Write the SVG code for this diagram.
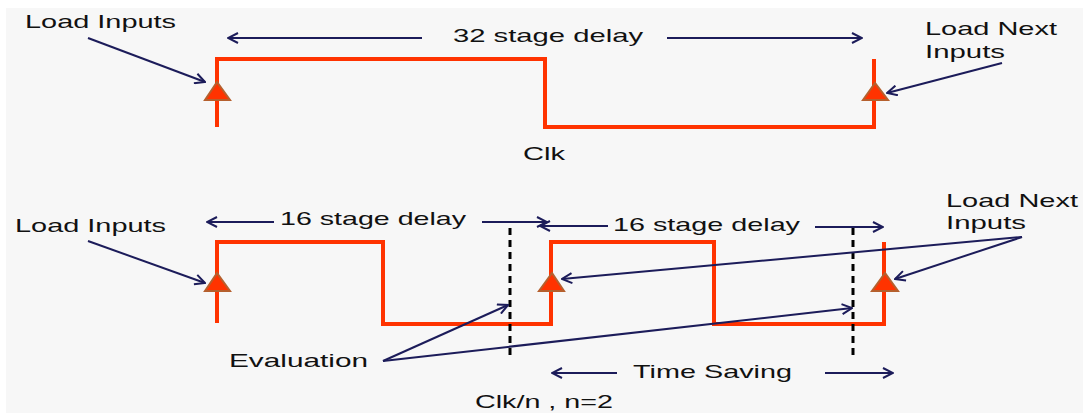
<svg xmlns="http://www.w3.org/2000/svg" width="1089" height="415" viewBox="0 0 1089 415">
<style>
.t{font-family:"Liberation Sans",Arial,sans-serif;font-size:19px;fill:#111;}
.w{fill:none;stroke:#ff3300;stroke-width:4;stroke-linejoin:miter;}
.tri{fill:#ff3300;stroke:#b5602e;stroke-width:2;stroke-linejoin:miter;}
.a{fill:none;stroke:#1c1c5a;stroke-width:2;marker-end:url(#ah);}
.d{fill:none;stroke:#000;stroke-width:3;stroke-dasharray:7,5;}
</style>
<defs>
<marker id="ah" viewBox="0 0 12 12" refX="11" refY="6" markerWidth="12" markerHeight="12" markerUnits="userSpaceOnUse" orient="auto">
<path d="M1,1 L11,6 L1,11" fill="none" stroke="#1c1c5a" stroke-width="2"/>
</marker>
</defs>
<rect x="0" y="0" width="1089" height="415" fill="#ffffff"/>
<rect x="6" y="8" width="1077" height="405" fill="#f7f7f7"/>
<g id="clk-top">
<path class="w" d="M217,127 V59 H545 V127 H874 V59"/>
<polygon class="tri" points="217,82 205,100 230,100"/>
<polygon class="tri" points="875,83 863,100 888,100"/>
<text class="t" x="523" y="160" textLength="42" lengthAdjust="spacingAndGlyphs">Clk</text>
</g>
<g id="clk-bottom">
<path class="w" d="M217,323 V242 H383 V324 H551 V242 H714 V324 H884 V242"/>
<polygon class="tri" points="217,273 205,291 230,291"/>
<polygon class="tri" points="552,273 539,291 564,291"/>
<polygon class="tri" points="885,273 872,291 898,291"/>
<line class="d" x1="510" y1="228" x2="510" y2="358"/>
<line class="d" x1="853" y1="228" x2="853" y2="358"/>
<text class="t" x="475" y="408" textLength="138" lengthAdjust="spacingAndGlyphs">Clk/n , n=2</text>
</g>
<g id="labels">
<text class="t" x="25" y="28" textLength="151" lengthAdjust="spacingAndGlyphs">Load Inputs</text>
<text class="t" x="453" y="42" textLength="190" lengthAdjust="spacingAndGlyphs">32 stage delay</text>
<text class="t" x="925" y="35" textLength="132" lengthAdjust="spacingAndGlyphs">Load Next</text>
<text class="t" x="925" y="58" textLength="80" lengthAdjust="spacingAndGlyphs">Inputs</text>
<text class="t" x="15" y="232" textLength="151" lengthAdjust="spacingAndGlyphs">Load Inputs</text>
<text class="t" x="280" y="225" textLength="186" lengthAdjust="spacingAndGlyphs">16 stage delay</text>
<text class="t" x="613" y="231" textLength="187" lengthAdjust="spacingAndGlyphs">16 stage delay</text>
<text class="t" x="946" y="207" textLength="132" lengthAdjust="spacingAndGlyphs">Load Next</text>
<text class="t" x="946" y="229" textLength="80" lengthAdjust="spacingAndGlyphs">Inputs</text>
<text class="t" x="229" y="367" textLength="139" lengthAdjust="spacingAndGlyphs">Evaluation</text>
<text class="t" x="633" y="378" textLength="159" lengthAdjust="spacingAndGlyphs">Time Saving</text>
</g>
<g id="connectors">
<line class="a" x1="422" y1="38" x2="228" y2="38"/>
<line class="a" x1="667" y1="38" x2="862" y2="38"/>
<line class="a" x1="88" y1="38" x2="205" y2="82"/>
<line class="a" x1="1002" y1="63" x2="887" y2="93"/>
<line class="a" x1="274" y1="222" x2="207" y2="222"/>
<line class="a" x1="482" y1="222" x2="547" y2="222"/>
<line class="a" x1="608" y1="226" x2="540" y2="226"/>
<line class="a" x1="815" y1="227" x2="883" y2="227"/>
<line class="a" x1="88" y1="241" x2="205" y2="283"/>
<line class="a" x1="1022" y1="237" x2="562" y2="279"/>
<line class="a" x1="1022" y1="237" x2="895" y2="279"/>
<line class="a" x1="383" y1="361" x2="508" y2="305"/>
<line class="a" x1="383" y1="361" x2="852" y2="308"/>
<line class="a" x1="617" y1="373" x2="552" y2="373"/>
<line class="a" x1="825" y1="373" x2="893" y2="373"/>
</g>
</svg>
